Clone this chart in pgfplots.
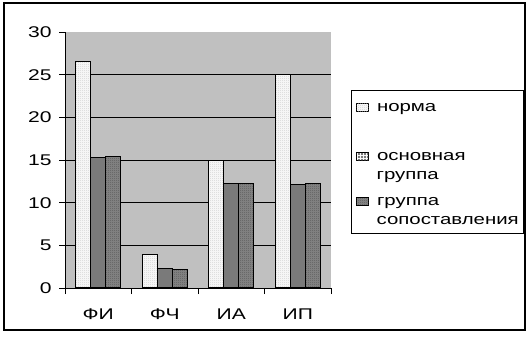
\documentclass[border=0pt]{standalone}
\usepackage{fontspec}
\setmainfont{Liberation Sans}[FakeStretch=1.36]
\usepackage{pgfplots}
\pgfplotsset{compat=1.18}
\usetikzlibrary{patterns,patterns.meta}
\definecolor{bg}{HTML}{C0C0C0}
\tikzdeclarepattern{name=mygrid, type=uncolored,
  bounding box={(0,0) and (2.4bp,2.4bp)}, tile size={(2.4bp,2.4bp)},
  code={\draw[line width=0.8bp] (0,1.2bp)--(2.4bp,1.2bp) (1.2bp,0)--(1.2bp,2.4bp);}}
\tikzdeclarepattern{name=mydots, type=uncolored,
  bounding box={(0,0) and (2bp,2bp)}, tile size={(2bp,2bp)},
  code={\fill (0.5bp,0.5bp) rectangle (1.3bp,1.3bp);}}
\tikzset{
  sA/.style={draw=black, fill=black!4, postaction={pattern=mydots, pattern color=black!25}},
  sB/.style={draw=black, fill=white, postaction={pattern=mygrid, pattern color=black!80}},
  sC/.style={draw=black, fill=black!50, postaction={pattern=mydots, pattern color=black!70}},
}
\newcommand{\lstrut}[2]{\rule[-#2bp]{0pt}{\dimexpr #1bp + #2bp\relax}}
\newcommand{\swatch}[1]{\tikz[baseline=0pt]{\draw[#1, line width=0.6bp] (0bp,0bp) rectangle (12bp,8bp);}\hspace{8bp}}
\newcommand{\noswatch}{\hspace{20bp}}
\begin{document}
\begin{tikzpicture}[x=1bp,y=1bp]
\useasboundingbox (0,0) rectangle (528,336);
\draw[line width=1.5bp] (4,6) rectangle (525,333);
\begin{axis}[
  at={(65bp,48bp)}, anchor=south west,
  scale only axis, width=266bp, height=256bp,
  font=\fontsize{15.5bp}{17.7bp}\selectfont,
  /pgf/number format/assume math mode=true,
  axis background/.style={fill=bg},
  axis x line=bottom, axis y line=left, axis line style={-, line width=0.9bp},
  ybar=0pt, bar width=15bp,
  xmin=-0.5, xmax=3.5, ymin=0, ymax=30,
  xtick={-0.5,0.5,1.5,2.5,3.5},
  x tick label as interval,
  xticklabels={ФИ,ФЧ,ИА,ИП},
  ytick={0,5,...,30},
  tick align=outside, major tick length=6bp,
  tick style={black, line width=0.8bp},
  extra y ticks={5,10,15,20,25}, extra y tick labels={},
  extra y tick style={ymajorgrids=true, major tick length=0pt},
  major grid style={black, line width=0.8bp},
  yticklabel style={xshift=-4bp},
  xticklabel style={yshift=-11bp},
  legend style={at={(1.0752,0.7734)}, anchor=north west, draw=black, line width=0.8bp,
    font=\fontsize{15bp}{17.7bp}\selectfont, row sep=0pt, inner xsep=3bp, inner ysep=5bp,
    cells={anchor=base west, inner sep=0pt}},
  legend cell align=left,
  legend image code/.code={},
]
\addplot[sA, line width=1.2bp]
  coordinates {(0,26.5) (1,3.9) (2,14.9) (3,25.0)};
\addlegendentry{\lstrut{13.7}{4}\swatch{sA}норма}
\addplot[sB, line width=1.2bp]
  coordinates {(0,15.3) (1,2.3) (2,12.2) (3,12.1)};
\addlegendentry{\lstrut{44}{4}\swatch{sB}основная}
\addlegendimage{empty legend}
\addlegendentry{\lstrut{13.7}{4}\noswatch группа}
\addplot[sC, line width=1.2bp]
  coordinates {(0,15.4) (1,2.2) (2,12.2) (3,12.2)};
\addlegendentry{\lstrut{20}{4}\swatch{sC}группа}
\addlegendimage{empty legend}
\addlegendentry{\lstrut{13.7}{4}\noswatch сопоставления}
\end{axis}
\end{tikzpicture}
\end{document}
